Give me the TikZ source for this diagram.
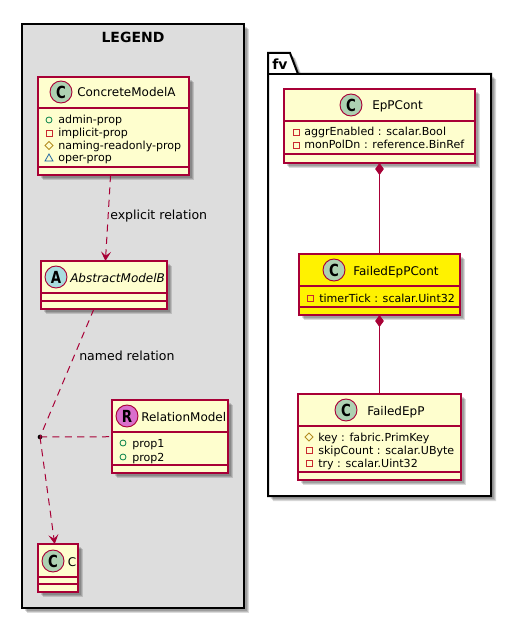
\documentclass[tikz,border=0pt]{standalone}
\usepackage{fontspec}
\setmainfont{DejaVu Sans}
\newfontfamily\iconfont[FakeStretch=0.8]{DejaVu Sans Bold}
\usetikzlibrary{shadows,arrows.meta}
\definecolor{boxfill}{HTML}{FEFECE}
\definecolor{boxline}{HTML}{A80036}
\definecolor{iconC}{HTML}{ADD1B2}
\definecolor{iconA}{HTML}{A9DCDF}
\definecolor{iconR}{HTML}{DA6FCC}
\definecolor{legendbg}{HTML}{DDDDDD}
\definecolor{mgreen}{HTML}{038048}
\definecolor{mred}{HTML}{C82930}
\definecolor{mgold}{HTML}{B38D22}
\definecolor{mblue}{HTML}{1963A0}
\tikzset{
  softshadow/.style={
    general shadow={shadow xshift=2.2pt,shadow yshift=-2.2pt,fill=black,opacity=.15},
    general shadow={shadow xshift=3.0pt,shadow yshift=-3.0pt,fill=black,opacity=.15},
    general shadow={shadow xshift=3.8pt,shadow yshift=-3.8pt,fill=black,opacity=.14}},
  classbox/.style={draw=boxline,line width=1pt,rectangle,inner sep=0pt,outer sep=0pt,softshadow},
  secline/.style={draw=boxline,line width=1pt},
  badge/.style={circle,draw=boxline,line width=.7pt,minimum size=16.5pt,inner sep=0pt,font=\iconfont\fontsize{12.5pt}{13pt}\selectfont},
  titletext/.style={anchor=base west,inner sep=0pt,font=\fontsize{9pt}{12pt}\selectfont},
  membertext/.style={anchor=base west,inner sep=0pt,font=\fontsize{8.3pt}{10pt}\selectfont},
  edgelabel/.style={anchor=base west,inner sep=0pt,font=\fontsize{9.4pt}{12pt}\selectfont},
  rel/.style={draw=boxline,line width=.75pt},
  dashrel/.style={rel,dash pattern=on 5.3pt off 4pt},
  openhead/.style={-{Stealth[length=7pt,width=7.5pt,inset=3pt]}},
  comp/.style={{Diamond[length=9pt,width=6.5pt,fill=boxline]}-},
}
\newcommand{\classnode}[6]{\node[classbox,fill=#6,minimum width={(#4-#2)*0.75pt},minimum height={(#5-#3)*0.75pt}] (#1) at ({(#2+#4)/2},{(#3+#5)/2}) {};}
\newcommand{\secat}[2]{\draw[secline] (#1.west |- 0,#2) -- (#1.east |- 0,#2);}
\newcommand{\iconplus}[2]{\draw[mgreen,line width=.6pt] (#1,#2) circle[radius=3];}
\newcommand{\iconminus}[2]{\draw[mred,line width=.6pt] ({#1-3},{#2-3}) rectangle ({#1+3},{#2+3});}
\newcommand{\iconhash}[2]{\draw[mgold,line width=.6pt] ({#1-4},#2) -- (#1,{#2-4}) -- ({#1+4},#2) -- (#1,{#2+4}) -- cycle;}
\newcommand{\icontilde}[2]{\draw[mblue,line width=.6pt] ({#1-4},{#2+3}) -- (#1,{#2-4}) -- ({#1+4},{#2+3}) -- cycle;}
\begin{document}
\begin{tikzpicture}[x=0.75pt,y=-0.75pt]
\useasboundingbox (0,0) rectangle (524,634);
\fill[white] (0,0) rectangle (524,634);
% legend frame
\node[draw=black,line width=1.5pt,fill=legendbg,rectangle,inner sep=0pt,outer sep=0pt,softshadow,minimum width={222*0.75pt},minimum height={584*0.75pt}] (legend) at (133,316) {};
\node[anchor=base,inner sep=0pt,font=\bfseries\fontsize{10.5pt}{12pt}\selectfont] (legendtitle) at (133,43) {LEGEND};
% package
\draw[black,line width=1.5pt,fill=white,softshadow] (268,496) -- (268,53) -- (290,53) -- (298,74) -- (491,74) -- (491,496) -- cycle;
\draw[black,line width=1.5pt] (268,74) -- (298,74);
\node[anchor=base west,inner sep=0pt,font=\bfseries\fontsize{10.5pt}{12pt}\selectfont] (fvlabel) at (272,70) {fv};
% ConcreteModelA
\classnode{cma}{38}{77}{189}{175}{boxfill}
\secat{cma}{108}\secat{cma}{167}
\node[badge,fill=iconC] (cmab) at (61,92) {C};
\node[titletext] (cmat) at (77,97) {ConcreteModelA};
\iconplus{49}{120}\iconminus{49}{133}\iconhash{49}{145.5}\icontilde{49}{158}
\node[membertext] (cma1) at (58,124) {admin-prop};
\node[membertext] (cma2) at (58,136.5) {implicit-prop};
\node[membertext] (cma3) at (58,149.5) {naming-readonly-prop};
\node[membertext] (cma4) at (58,162) {oper-prop};
% AbstractModelB
\classnode{amb}{41}{261}{167}{309}{boxfill}
\secat{amb}{293}\secat{amb}{301}
\node[badge,fill=iconA] (ambb) at (56,277) {A};
\node[titletext,font=\itshape\fontsize{9pt}{12pt}\selectfont] (ambt) at (70,282) {AbstractModelB};
% RelationModel
\classnode{rm}{112}{400}{228}{473}{boxfill}
\secat{rm}{432}\secat{rm}{465}
\node[badge,fill=iconR] (rmb) at (127,416) {R};
\node[titletext] (rmt) at (141,421) {RelationModel};
\iconplus{123}{443}\iconplus{123}{457}
\node[membertext] (rm1) at (132,447) {prop1};
\node[membertext] (rm2) at (132,461) {prop2};
% C
\classnode{cc}{38}{544}{78}{592}{boxfill}
\secat{cc}{577}\secat{cc}{584}
\node[badge,fill=iconC] (ccb) at (53,561) {C};
\node[titletext] (cct) at (67.5,566) {C};
% junction
\node[circle,fill=black,inner sep=0pt,minimum size=3.5pt] (dot) at (40,437) {};
% legend connectors
\draw[dashrel,openhead] (cma) -- (amb);
\draw[dashrel] (amb) -- (dot.center);
\draw[dashrel] (dot.center) -- (rm);
\draw[dashrel,openhead] (dot.center) -- (cc);
\node[edgelabel] (lab1) at (110,220) {explicit relation};
\node[edgelabel] (lab2) at (79,360) {named relation};
% EpPCont
\classnode{epc}{284}{89}{475}{163}{boxfill}
\secat{epc}{121}\secat{epc}{154}
\node[badge,fill=iconC] (epcb) at (351,105) {C};
\node[titletext] (epct) at (372,110) {EpPCont};
\iconminus{296}{132}\iconminus{296}{145}
\node[membertext] (epc1) at (304,136) {aggrEnabled : scalar.Bool};
\node[membertext] (epc2) at (304,149) {monPolDn : reference.BinRef};
% FailedEpPCont
\classnode{fec}{299}{254}{460}{315}{yellow}
\secat{fec}{286}\secat{fec}{307}
\node[badge,fill=iconC] (fecb) at (334,270) {C};
\node[titletext] (fect) at (353,275) {FailedEpPCont};
\iconminus{310}{298}
\node[membertext] (fec1) at (319,302) {timerTick : scalar.Uint32};
% FailedEpP
\classnode{fep}{298}{394}{461}{480}{boxfill}
\secat{fep}{426}\secat{fep}{472}
\node[badge,fill=iconC] (fepb) at (346,410) {C};
\node[titletext] (fept) at (367,415) {FailedEpP};
\iconhash{309}{437}\iconminus{309}{450}\iconminus{309}{463}
\node[membertext] (fep1) at (318,441) {key : fabric.PrimKey};
\node[membertext] (fep2) at (318,454) {skipCount : scalar.UByte};
\node[membertext] (fep3) at (318,467) {try : scalar.Uint32};
% composition connectors
\draw[rel,comp] (epc.south -| fec.north) -- (fec.north);
\draw[rel,comp] (fec.south) -- (fep.north -| fec.south);
\end{tikzpicture}
\end{document}
